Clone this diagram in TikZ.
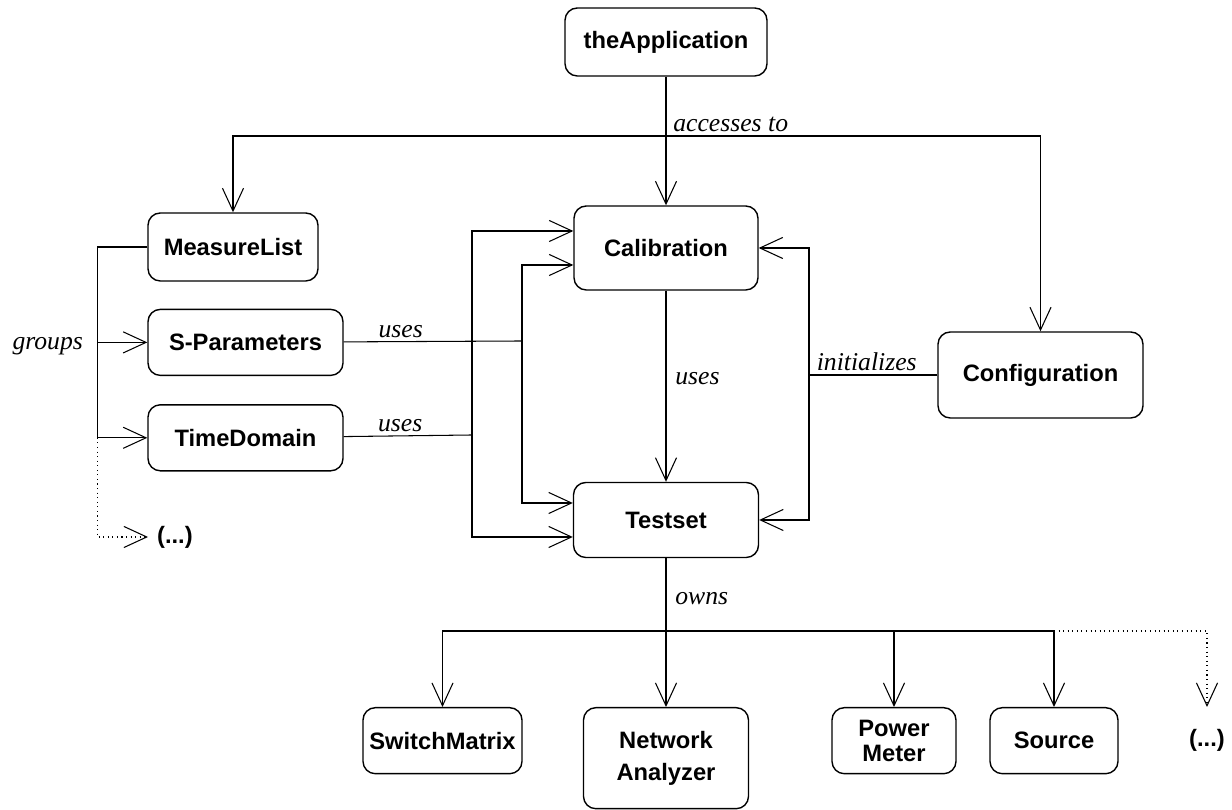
\documentclass[tikz,border=0pt]{standalone}
\usepackage{fontspec}
\setmainfont{Liberation Serif}
\setsansfont{Liberation Sans}
\usepackage{tikz}
\usetikzlibrary{arrows.meta, positioning}
\tikzset{
    cls/.style={rectangle, draw, thick, rounded corners=7pt, align=center, font=\sffamily\bfseries\fontsize{13.5}{16}\selectfont},
    etc/.style={inner sep=5pt, font=\sffamily\bfseries\fontsize{13.5}{16}\selectfont},
    lbl/.style={font=\itshape\fontsize{14.6}{16}\selectfont, inner sep=2pt},
    link/.style={semithick},
    arrow/.style={semithick, -{Straight Barb[length=13pt, width=12pt]}}
}

\begin{document}
\begin{tikzpicture}
        \useasboundingbox (0,0) rectangle (24.64,16.2);

        % Main classes
        \node (App) [cls, minimum width=4.04cm, minimum height=1.36cm] at (13.32, 15.36) {theApplication};
        \node (Calib) [cls, minimum width=3.68cm, minimum height=1.68cm] at (13.32, 11.24) {Calibration};
        \node (Testset) [cls, minimum width=3.7cm, minimum height=1.5cm] at (13.32, 5.8) {Testset};
        \node (Config) [cls, minimum width=4.1cm, minimum height=1.72cm] at (20.81, 8.7) {Configuration};

        % Measurement classes
        \node (MList) [cls, minimum width=3.4cm, minimum height=1.36cm] at (4.66, 11.26) {MeasureList};
        \node (SPar) [cls, minimum width=3.9cm, minimum height=1.32cm, below=0.54cm of MList.south west, anchor=north west] {S-Parameters};
        \node (TDom) [cls, minimum width=3.9cm, minimum height=1.32cm, below=0.56cm of SPar] {TimeDomain};
        \node (More1) [etc, anchor=west] at (2.96, 5.46) {(...)};

        % Instruments
        \node (Switch) [cls, minimum width=3.18cm, minimum height=1.32cm, anchor=north] at (8.85, 2.06) {SwitchMatrix};
        \node (NetAn) [cls, minimum width=3.3cm, minimum height=2.02cm, anchor=north] at (13.32, 2.06) {Network\\[2pt]Analyzer};
        \node (PMeter) [cls, minimum width=2.48cm, minimum height=1.32cm, anchor=north] at (17.88, 2.06) {Power\\[-2pt]Meter};
        \node (Source) [cls, minimum width=2.56cm, minimum height=1.32cm, anchor=north] at (21.08, 2.06) {Source};
        \node (More2) [etc, minimum height=1.32cm, anchor=north] at (24.14, 2.06) {(...)};

        % accesses to
        \coordinate (Bus) at (13.32, 13.48);
        \draw[arrow] (App) -- (Calib);
        \draw[arrow] (Bus) -| (MList);
        \draw[arrow] (Bus) -| (Config);
        \node[lbl, anchor=south west, xshift=2pt] at (Bus) {accesses to};

        % groups
        \draw[link] (MList.west) -- ++(-1, 0) coordinate (G1) -- (G1 |- TDom) coordinate (G2);
        \draw[arrow] (G1 |- SPar) -- (SPar);
        \draw[arrow] (G2) -- (TDom);
        \draw[arrow, dotted] (G2) |- (More1);
        \node[lbl, anchor=east, xshift=-6pt, yshift=-2pt] at (G1 |- SPar) {groups};

        % uses
        \coordinate (USp) at (10.44, 9.38);
        \coordinate (UTd) at (9.44, 7.5);
        \draw[link] (SPar) -- node[lbl, above, pos=0.32] {uses} (USp);
        \draw[link] (TDom) -- node[lbl, above, pos=0.44] {uses} (UTd);
        \draw[arrow] (USp) |- ([yshift=-0.34cm]Calib.west);
        \draw[arrow] (USp) |- ([yshift=0.34cm]Testset.west);
        \draw[arrow] (UTd) |- ([yshift=0.34cm]Calib.west);
        \draw[arrow] (UTd) |- ([yshift=-0.34cm]Testset.west);
        \draw[arrow] (Calib) -- node[lbl, right, xshift=3pt, pos=0.46] {uses} (Testset);

        % initializes
        \coordinate (Init) at (16.18, 8.7);
        \draw[link] (Config) -- node[lbl, above, pos=0.55] {initializes} (Init);
        \draw[arrow] (Init) |- (Calib);
        \draw[arrow] (Init) |- (Testset);

        % owns
        \coordinate (Own) at (13.32, 3.58);
        \draw[link] (Testset) -- node[lbl, right, xshift=3pt, pos=0.55] {owns} (Own);
        \draw[arrow] (Own) -- (NetAn);
        \draw[arrow] (Own) -| (Switch);
        \draw[arrow] (Own) -| (PMeter);
        \draw[arrow] (Own) -| (Source);
        \draw[arrow, dotted] (Source |- Own) -| (More2);

    \end{tikzpicture}
\end{document}
